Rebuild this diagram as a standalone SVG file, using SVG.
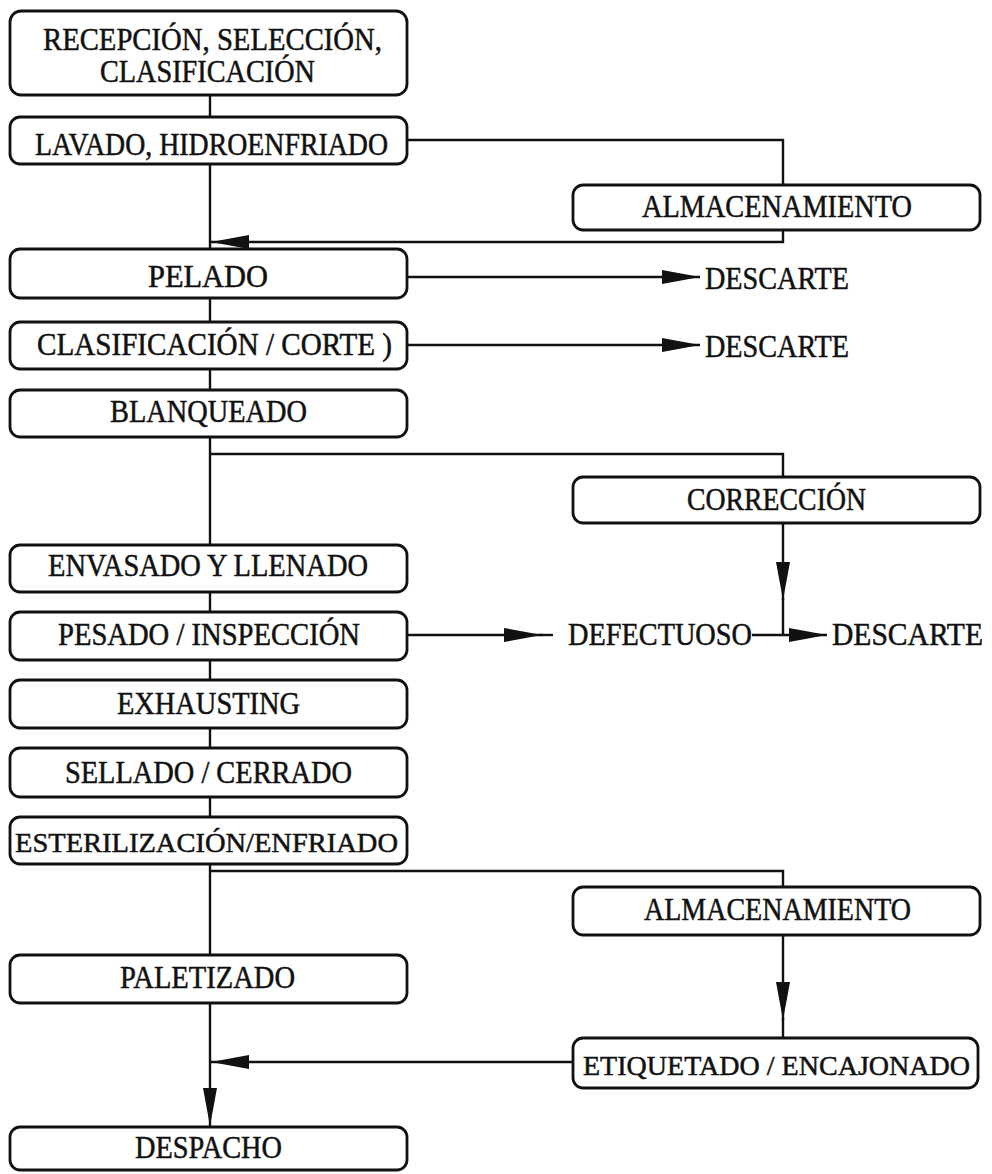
<svg xmlns="http://www.w3.org/2000/svg" width="992" height="1174" viewBox="0 0 992 1174">
<style>
.box{fill:#fff;stroke:#111;stroke-width:2.8}
.ln{fill:none;stroke:#111;stroke-width:2.4}
text{font-family:"Liberation Serif","Times New Roman",serif;font-size:31px;fill:#111;stroke:#111;stroke-width:0.5}
.sm{font-size:28px}
</style>
<defs>
<marker id="ah" markerUnits="userSpaceOnUse" markerWidth="40" markerHeight="18" refX="38" refY="8" orient="auto" viewBox="0 0 40 16">
<path d="M0,1 L38,8 L0,15 Z" fill="#111"/>
</marker>
</defs>
<rect width="992" height="1174" fill="#fff"/>
<g id="connectors">
<path class="ln" d="M210,95 V117"/>
<path class="ln" d="M210,164 V249"/>
<path class="ln" d="M405,140 H783 V185"/>
<path class="ln" d="M783,230 V242 H211" marker-end="url(#ah)"/>
<path class="ln" d="M407,277 H700" marker-end="url(#ah)"/>
<path class="ln" d="M210,298 V322"/>
<path class="ln" d="M407,345 H700" marker-end="url(#ah)"/>
<path class="ln" d="M210,369 V390"/>
<path class="ln" d="M210,437 V545"/>
<path class="ln" d="M210,454 H783 V477"/>
<path class="ln" d="M783,523 V600" marker-end="url(#ah)"/>
<path class="ln" d="M783,598 V635"/>
<path class="ln" d="M210,592 V612"/>
<path class="ln" d="M407,635 H542" marker-end="url(#ah)"/>
<path class="ln" d="M540,635 H553"/>
<path class="ln" d="M752,635 H827" marker-end="url(#ah)"/>
<path class="ln" d="M210,660 V680"/>
<path class="ln" d="M210,728 V748"/>
<path class="ln" d="M210,797 V817"/>
<path class="ln" d="M210,864 V955"/>
<path class="ln" d="M210,871 H783 V887"/>
<path class="ln" d="M783,935 V1020" marker-end="url(#ah)"/>
<path class="ln" d="M783,1018 V1038"/>
<path class="ln" d="M573,1062 H211" marker-end="url(#ah)"/>
<path class="ln" d="M210,1003 V1126" marker-end="url(#ah)"/>
</g>
<g id="n1"><rect class="box" x="10" y="11" width="397" height="84" rx="11"/><text x="43" y="50" textLength="339" lengthAdjust="spacingAndGlyphs">RECEPCIÓN, SELECCIÓN,</text><text x="100" y="82" textLength="215" lengthAdjust="spacingAndGlyphs">CLASIFICACIÓN</text></g>
<g id="n2"><rect class="box" x="10" y="117" width="397" height="47" rx="10"/><text x="35" y="155" textLength="353" lengthAdjust="spacingAndGlyphs">LAVADO, HIDROENFRIADO</text></g>
<g id="n3"><rect class="box" x="573" y="185" width="407" height="45" rx="10"/><text x="642" y="217" textLength="270" lengthAdjust="spacingAndGlyphs">ALMACENAMIENTO</text></g>
<g id="n4"><rect class="box" x="10" y="249" width="397" height="49" rx="10"/><text x="148" y="287" textLength="120" lengthAdjust="spacingAndGlyphs">PELADO</text></g>
<g id="n5"><text x="705" y="289" textLength="144" lengthAdjust="spacingAndGlyphs">DESCARTE</text></g>
<g id="n6"><rect class="box" x="10" y="322" width="397" height="47" rx="10"/><text x="37" y="355" textLength="355" lengthAdjust="spacingAndGlyphs">CLASIFICACIÓN / CORTE )</text></g>
<g id="n7"><text x="705" y="357" textLength="144" lengthAdjust="spacingAndGlyphs">DESCARTE</text></g>
<g id="n8"><rect class="box" x="10" y="390" width="397" height="47" rx="10"/><text x="110" y="422" textLength="197" lengthAdjust="spacingAndGlyphs">BLANQUEADO</text></g>
<g id="n9"><rect class="box" x="573" y="477" width="407" height="46" rx="10"/><text x="687" y="510" textLength="179" lengthAdjust="spacingAndGlyphs">CORRECCIÓN</text></g>
<g id="n10"><rect class="box" x="10" y="545" width="397" height="47" rx="10"/><text x="48" y="576" textLength="320" lengthAdjust="spacingAndGlyphs">ENVASADO Y LLENADO</text></g>
<g id="n11"><rect class="box" x="10" y="612" width="397" height="48" rx="10"/><text x="58" y="645" textLength="302" lengthAdjust="spacingAndGlyphs">PESADO / INSPECCIÓN</text></g>
<g id="n12"><text x="568" y="645" textLength="184" lengthAdjust="spacingAndGlyphs">DEFECTUOSO</text></g>
<g id="n13"><text x="832" y="645" textLength="151" lengthAdjust="spacingAndGlyphs">DESCARTE</text></g>
<g id="n14"><rect class="box" x="10" y="680" width="397" height="48" rx="10"/><text x="117" y="714" textLength="183" lengthAdjust="spacingAndGlyphs">EXHAUSTING</text></g>
<g id="n15"><rect class="box" x="10" y="748" width="397" height="49" rx="10"/><text x="65" y="783" textLength="287" lengthAdjust="spacingAndGlyphs">SELLADO / CERRADO</text></g>
<g id="n16"><rect class="box" x="10" y="817" width="397" height="47" rx="10"/><text class="sm" x="15" y="852" textLength="383" lengthAdjust="spacingAndGlyphs">ESTERILIZACIÓN/ENFRIADO</text></g>
<g id="n17"><rect class="box" x="573" y="887" width="407" height="48" rx="10"/><text x="644" y="920" textLength="267" lengthAdjust="spacingAndGlyphs">ALMACENAMIENTO</text></g>
<g id="n18"><rect class="box" x="10" y="955" width="397" height="48" rx="10"/><text x="120" y="988" textLength="175" lengthAdjust="spacingAndGlyphs">PALETIZADO</text></g>
<g id="n19"><rect class="box" x="573" y="1038" width="405" height="50" rx="10"/><text class="sm" x="583" y="1075" textLength="387" lengthAdjust="spacingAndGlyphs">ETIQUETADO / ENCAJONADO</text></g>
<g id="n20"><rect class="box" x="10" y="1127" width="397" height="43" rx="10"/><text x="135" y="1158" textLength="147" lengthAdjust="spacingAndGlyphs">DESPACHO</text></g>
</svg>
